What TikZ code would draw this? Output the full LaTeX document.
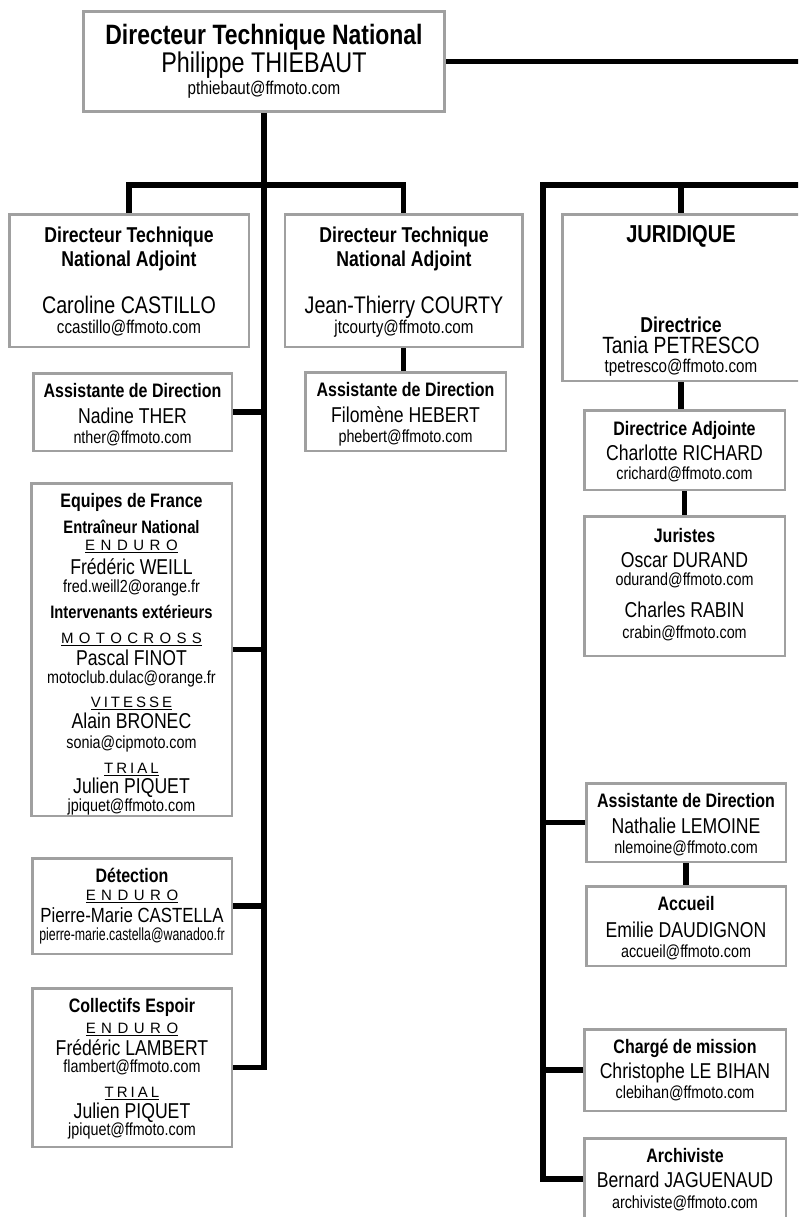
\documentclass[tikz,border=0pt]{standalone}
\usepackage{fontspec}
\setmainfont{Liberation Sans}[FakeStretch=0.82]
\newfontfamily\zzwide{Liberation Sans}
\usepackage{graphicx}
\definecolor{boxgray}{RGB}{160,160,160}
\makeatletter
\newcommand\zzspw[2]{\def\zzspw@gap{#1}\zzspw@#2\@nil}
\def\zzspw@#1#2{#1\ifx\@nil#2\expandafter\@gobble\else\kern\zzspw@gap\relax\expandafter\zzspw@\fi#2}
\makeatother
\newcommand\zzsport[2]{{\zzwide\fontsize{15}{17}\selectfont\setbox0\hbox{\zzspw{#1}{#2}}\rlap{\vrule height -1.6pt depth 3pt width \wd0}\box0}}
\newcommand\zzTopT{\fontsize{28}{30}\selectfont\bfseries}
\newcommand\zzTopN{\fontsize{28.5}{30}\selectfont}
\newcommand\zzMail{\fontsize{18.5}{20}\selectfont}
\newcommand\zzDT{\fontsize{21.5}{24}\selectfont\bfseries}
\newcommand\zzDN{\fontsize{24}{26}\selectfont}
\newcommand\zzST{\fontsize{19.5}{22}\selectfont\bfseries}
\newcommand\zzSS{\fontsize{18}{20}\selectfont\bfseries}
\newcommand\zzSN{\fontsize{21.5}{24}\selectfont}
\newcommand\zzSE{\fontsize{17.5}{20}\selectfont}
\newcommand\zzJT{\fontsize{24.5}{26}\selectfont\bfseries}
\newcommand\zzJD{\fontsize{21.5}{24}\selectfont\bfseries}
\newcommand\zzJN{\fontsize{23.5}{26}\selectfont}
\tikzset{
  box/.style={draw=boxgray, line width=2.5pt, fill=white, rectangle, inner sep=0pt},
  conn/.style={line width=5.5pt, black, line join=miter, line cap=butt},
  t/.style={anchor=base, inner sep=0pt},
}
\begin{document}
\begin{tikzpicture}[x=1pt,y=-1pt]
\useasboundingbox (0,0) rectangle (798,1217);
\fill[white] (0,0) rectangle (798,1217);
\clip (0,0) rectangle (798,1217);

% boxes
\node[box, line width=3pt, minimum width=361pt, minimum height=100pt] (top) at (264,61.5) {};
\node[box, minimum width=239.5pt, minimum height=132.5pt] (dtna1) at (129,280.5) {};
\node[box, minimum width=237.5pt, minimum height=132.5pt] (dtna2) at (403.5,280.5) {};
\node[box, minimum width=198.5pt, minimum height=77.5pt] (asl) at (132.5,412) {};
\node[box, minimum width=200.5pt, minimum height=78.5pt] (asm) at (405.5,411.5) {};
\node[box, minimum width=200.5pt, minimum height=332.5pt] (edf) at (131.5,649.5) {};
\node[box, minimum width=199.5pt, minimum height=95.5pt] (det) at (132,906) {};
\node[box, minimum width=199.5pt, minimum height=158.5pt] (col) at (132,1067.5) {};
\node[box, minimum width=237.5pt, minimum height=166.5pt] (jur) at (681,297.5) {};
\node[box, minimum width=200.5pt, minimum height=79.5pt] (dadj) at (684.5,450) {};
\node[box, minimum width=200.5pt, minimum height=139.5pt] (jst) at (684.5,586) {};
\node[box, minimum width=199.5pt, minimum height=78.5pt] (asr) at (686,822.5) {};
\node[box, minimum width=199.5pt, minimum height=79.5pt] (acc) at (686,926) {};
\node[box, minimum width=201.5pt, minimum height=81.5pt] (chg) at (685,1070) {};
\node[box, minimum width=201.5pt, minimum height=81.5pt] (arc) at (685,1179) {};

% connectors
\coordinate (hub) at (264,185);
\coordinate (offA) at (830,61.5);
\coordinate (offB) at (830,185);
\coordinate (rsp) at (543,185);
\draw[conn] (top.east) -- (offA);
\draw[conn] (top.south) -- (top.south |- col.east) -- (col.east);
\draw[conn] (dtna1.north) |- (hub) -| (dtna2.north);
\draw[conn] (asl.east) -- (asl.east -| top.south);
\draw[conn] (edf.east) -- (edf.east -| top.south);
\draw[conn] (det.east) -- (det.east -| top.south);
\draw[conn] (dtna2.south) -- (dtna2.south |- asm.north);
\draw[conn] (offB) -- (rsp) |- (arc.west);
\draw[conn] (jur.north |- rsp) -- (jur.north);
\draw[conn] (jur.south) -- (jur.south |- dadj.north);
\draw[conn] (dadj.south) -- (dadj.south |- jst.north);
\draw[conn] (asr.west) -- (asr.west -| rsp);
\draw[conn] (chg.west) -- (chg.west -| rsp);
\draw[conn] (asr.south) -- (asr.south |- acc.north);

% top
\node[t, font=\zzTopT] (topa) at (264,45) {Directeur Technique National};
\node[t, font=\zzTopN] (topb) at (264,73) {Philippe THIEBAUT};
\node[t, font=\zzMail] (topc) at (264,95) {pthiebaut@ffmoto.com};

% DTNA 1
\node[t, font=\zzDT] (d1a) at (129,242) {Directeur Technique};
\node[t, font=\zzDT] (d1b) at (129,266) {National Adjoint};
\node[t, font=\zzDN] (d1c) at (129,313) {Caroline CASTILLO};
\node[t, font=\zzMail] (d1d) at (129,333) {ccastillo@ffmoto.com};

% DTNA 2
\node[t, font=\zzDT] (d2a) at (404,242) {Directeur Technique};
\node[t, font=\zzDT] (d2b) at (404,266) {National Adjoint};
\node[t, font=\zzDN] (d2c) at (404,313) {Jean-Thierry COURTY};
\node[t, font=\zzMail] (d2d) at (404,333) {jtcourty@ffmoto.com};

% assistante left
\node[t, font=\zzST] (a1a) at (132.5,397) {Assistante de Direction};
\node[t, font=\zzSN] (a1b) at (132.5,423) {Nadine THER};
\node[t, font=\zzSE] (a1c) at (132.5,443) {nther@ffmoto.com};

% assistante middle
\node[t, font=\zzST] (a2a) at (405.5,396) {Assistante de Direction};
\node[t, font=\zzSN] (a2b) at (405.5,422) {Filomène HEBERT};
\node[t, font=\zzSE] (a2c) at (405.5,442) {phebert@ffmoto.com};

% equipes de france
\node[t, font=\zzST] (e1) at (131.5,507) {Equipes de France};
\node[t, font=\zzSS] (e2) at (131.5,533) {Entraîneur National};
\node[t] (e3) at (131.5,550) {\zzsport{5.5pt}{ENDURO}};
\node[t, font=\zzSN] (e4) at (131.5,574) {Frédéric WEILL};
\node[t, font=\zzSE] (e5) at (131.5,592) {fred.weill2@orange.fr};
\node[t, font=\zzSS] (e6) at (131.5,618) {Intervenants extérieurs};
\node[t] (e7) at (131.5,643) {\zzsport{5.3pt}{MOTOCROSS}};
\node[t, font=\zzSN] (e8) at (131.5,665) {Pascal FINOT};
\node[t, font=\zzSE] (e9) at (131.5,683) {motoclub.dulac@orange.fr};
\node[t] (e10) at (131.5,707) {\zzsport{3pt}{VITESSE}};
\node[t, font=\zzSN] (e11) at (131.5,728) {Alain BRONEC};
\node[t, font=\zzSE] (e12) at (131.5,748) {sonia@cipmoto.com};
\node[t] (e13) at (131.5,773) {\zzsport{3pt}{TRIAL}};
\node[t, font=\zzSN] (e14) at (131.5,793) {Julien PIQUET};
\node[t, font=\zzSE] (e15) at (131.5,811) {jpiquet@ffmoto.com};

% detection
\node[t, font=\zzST] (de1) at (132,882) {Détection};
\node[t] (de2) at (132,900) {\zzsport{5.5pt}{ENDURO}};
\node[t, font=\fontsize{20.5}{22}\selectfont] (de3) at (132,922) {Pierre-Marie CASTELLA};
\node[t, font=\zzSE] (de4) at (132,940) {\scalebox{0.86}[1]{pierre-marie.castella@wanadoo.fr}};

% collectifs espoir
\node[t, font=\zzST] (c1) at (132,1012) {Collectifs Espoir};
\node[t] (c2) at (132,1033) {\zzsport{5.5pt}{ENDURO}};
\node[t, font=\zzSN] (c3) at (132,1055) {Frédéric LAMBERT};
\node[t, font=\zzSE] (c4) at (132,1072) {flambert@ffmoto.com};
\node[t] (c5) at (132,1097) {\zzsport{3pt}{TRIAL}};
\node[t, font=\zzSN] (c6) at (132,1118) {Julien PIQUET};
\node[t, font=\zzSE] (c7) at (132,1135) {jpiquet@ffmoto.com};

% juridique
\node[t, font=\zzJT] (j1) at (681,242) {JURIDIQUE};
\node[t, font=\zzJD] (j2) at (681,332) {Directrice};
\node[t, font=\zzJN] (j3) at (681,353) {Tania PETRESCO};
\node[t, font=\zzMail] (j4) at (681,372) {tpetresco@ffmoto.com};

% directrice adjointe
\node[t, font=\zzST] (da1) at (684.5,435) {Directrice Adjointe};
\node[t, font=\zzSN] (da2) at (684.5,460) {Charlotte RICHARD};
\node[t, font=\zzSE] (da3) at (684.5,479) {crichard@ffmoto.com};

% juristes
\node[t, font=\zzST] (ju1) at (684.5,542) {Juristes};
\node[t, font=\zzSN] (ju2) at (684.5,567) {Oscar DURAND};
\node[t, font=\zzSE] (ju3) at (684.5,585) {odurand@ffmoto.com};
\node[t, font=\zzSN] (ju4) at (684.5,617) {Charles RABIN};
\node[t, font=\zzSE] (ju5) at (684.5,638) {crabin@ffmoto.com};

% assistante right
\node[t, font=\zzST] (ar1) at (686,807) {Assistante de Direction};
\node[t, font=\zzSN] (ar2) at (686,833) {Nathalie LEMOINE};
\node[t, font=\zzSE] (ar3) at (686,853) {nlemoine@ffmoto.com};

% accueil
\node[t, font=\zzST] (ac1) at (686,910) {Accueil};
\node[t, font=\zzSN] (ac2) at (686,937) {Emilie DAUDIGNON};
\node[t, font=\zzSE] (ac3) at (686,957) {accueil@ffmoto.com};

% charge de mission
\node[t, font=\zzST] (ch1) at (685,1053) {Chargé de mission};
\node[t, font=\zzSN] (ch2) at (685,1078) {Christophe LE BIHAN};
\node[t, font=\zzSE] (ch3) at (685,1098) {clebihan@ffmoto.com};

% archiviste
\node[t, font=\zzST] (rc1) at (685,1162) {Archiviste};
\node[t, font=\zzSN] (rc2) at (685,1187) {Bernard JAGUENAUD};
\node[t, font=\zzSE] (rc3) at (685,1208) {archiviste@ffmoto.com};
\end{tikzpicture}
\end{document}
